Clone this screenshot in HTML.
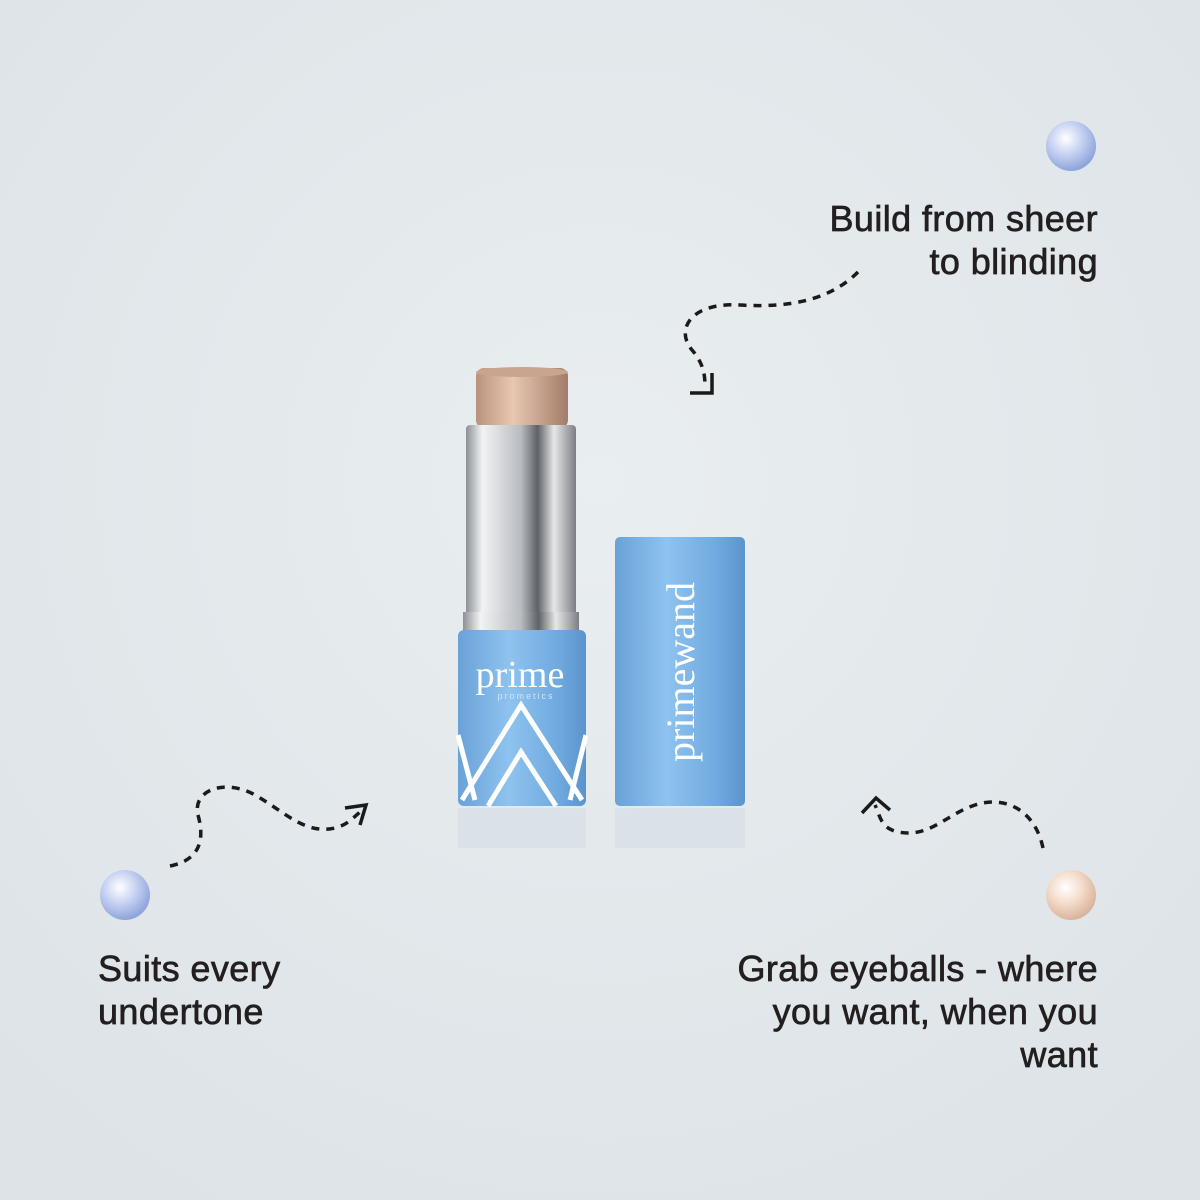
<!DOCTYPE html>
<html><head><style>
html,body{margin:0;padding:0}
body{width:1200px;height:1200px;overflow:hidden;background:#e4e9ec;position:relative;font-family:"Liberation Sans",sans-serif}
.t{position:absolute;font-size:36px;line-height:43px;color:#231f20;letter-spacing:0.4px;-webkit-text-stroke:0.7px #231f20}
</style></head><body>
<svg width="1200" height="1200" style="position:absolute;left:0;top:0">
<defs>
<radialGradient id="bg" cx="50%" cy="40%" r="70%"><stop offset="0" stop-color="#e9eef0"/><stop offset="1" stop-color="#dde3e7"/></radialGradient>
<radialGradient id="pb" cx="40%" cy="35%" r="65%"><stop offset="0" stop-color="#ffffff"/><stop offset="0.5" stop-color="#c6d2f2"/><stop offset="1" stop-color="#8fa4dc"/></radialGradient>
<radialGradient id="pp" cx="40%" cy="35%" r="65%"><stop offset="0" stop-color="#ffffff"/><stop offset="0.5" stop-color="#f4dccb"/><stop offset="1" stop-color="#d9b49c"/></radialGradient>
<linearGradient id="br" x1="0" x2="1"><stop offset="0" stop-color="#b9927c"/><stop offset="0.4" stop-color="#e8c8b2"/><stop offset="1" stop-color="#a27c68"/></linearGradient>
<linearGradient id="sv" x1="0" x2="1"><stop offset="0" stop-color="#8c9095"/><stop offset="0.15" stop-color="#f2f3f4"/><stop offset="0.5" stop-color="#b8bcc0"/><stop offset="0.65" stop-color="#5e6267"/><stop offset="0.8" stop-color="#e6e7e8"/><stop offset="1" stop-color="#7b7f84"/></linearGradient>
<linearGradient id="bl" x1="0" x2="1"><stop offset="0" stop-color="#6aa2d8"/><stop offset="0.4" stop-color="#8ec3ef"/><stop offset="0.8" stop-color="#6ea8de"/><stop offset="1" stop-color="#5b93cc"/></linearGradient>
</defs>
<rect width="1200" height="1200" fill="url(#bg)"/>
<circle cx="1071" cy="146" r="25" fill="url(#pb)"/>
<circle cx="125" cy="895" r="25" fill="url(#pb)"/>
<circle cx="1071" cy="895" r="25" fill="url(#pp)"/>
<g fill="none" stroke="#1a1a1a" stroke-width="3.5" stroke-dasharray="8 7" stroke-linecap="butt">
<path d="M858 272 C830 300 790 308 740 305 C690 302 675 330 692 350 C705 365 705 378 705 388"/>
<path d="M170 866 C200 860 205 840 198 815 C192 790 225 778 255 795 C285 812 305 835 335 828 C350 824 355 815 365 808"/>
<path d="M1043 848 C1035 810 1005 795 975 805 C945 815 930 838 898 832 C880 828 880 815 875 805"/>
</g>
<g fill="none" stroke="#1a1a1a" stroke-width="3.5">
<path d="M690 393 L712 393 L712 373"/>
<path d="M345 808 L366 805 L360 825"/>
<path d="M862 813 L876 798 L890 810"/>
</g>
<rect x="476" y="368" width="92" height="60" rx="8" fill="url(#br)"/>
<ellipse cx="522" cy="372" rx="46" ry="5" fill="#c9a48f"/>
<rect x="466" y="425" width="110" height="205" rx="4" fill="url(#sv)"/>
<rect x="463" y="612" width="116" height="20" fill="url(#sv)"/>
<rect x="458" y="630" width="128" height="176" rx="6" fill="url(#bl)"/>
<g stroke="#fff" stroke-width="5" fill="none">
<path d="M462 800 L521 705 L582 800"/>
<path d="M488 806 L521 752 L556 806"/>
<path d="M458 735 L475 800"/><path d="M586 735 L570 800"/>
</g>
<text x="520" y="687" fill="#fff" font-family="Liberation Serif,serif" font-size="38" text-anchor="middle">prime</text>
<text x="526" y="699" fill="#cfe4f6" font-family="Liberation Sans,sans-serif" font-size="9" text-anchor="middle" letter-spacing="2">prometics</text>
<rect x="615" y="537" width="130" height="269" rx="5" fill="url(#bl)"/>
<text transform="translate(694,672) rotate(-90)" x="0" y="0" fill="#fff" font-family="Liberation Serif,serif" font-size="40" text-anchor="middle">primewand</text>
<rect x="458" y="808" width="128" height="40" fill="#c9d6e0" opacity="0.35"/>
<rect x="615" y="808" width="130" height="40" fill="#c9d6e0" opacity="0.35"/>
</svg>
<div class="t" style="right:102px;top:197px;text-align:right">Build from sheer<br>to blinding</div>
<div class="t" style="left:98px;top:947px">Suits every<br>undertone</div>
<div class="t" style="right:102px;top:947px;text-align:right">Grab eyeballs - where<br>you want, when you<br>want</div>
</body></html>
